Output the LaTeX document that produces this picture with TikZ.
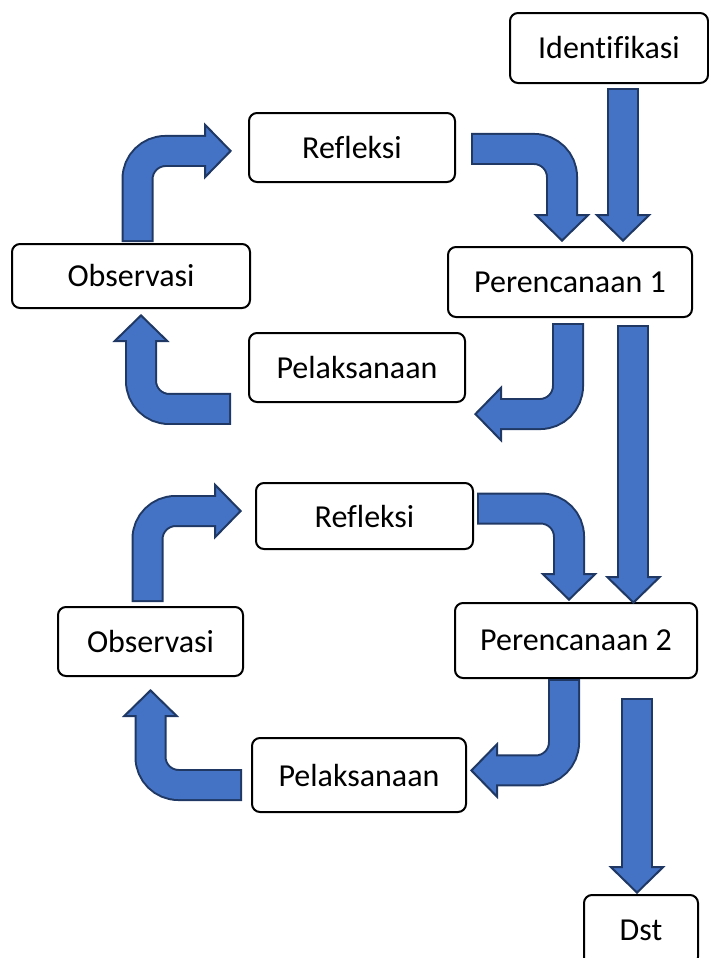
\documentclass[tikz,border=0pt]{standalone}
\usepackage{fontspec}
\setmainfont[Ligatures=NoCommon]{Carlito}
\usetikzlibrary{arrows.meta}
\definecolor{blkfill}{HTML}{4472C4}
\definecolor{blkline}{HTML}{1F3864}
\tikzset{
  box/.style={draw=black, fill=white, line width=1.5pt, rounded corners=6pt, inner sep=0pt, font=\fontsize{24}{28}\selectfont},
  blkout/.style={draw=blkline, line width=24pt, rounded corners=21pt, -{Triangle[length=21pt 0 0, width=42.75pt 0 0, line width=1.5pt 0 0, fill=blkfill]}},
  blkin/.style={draw=blkfill, line width=21pt, rounded corners=21pt, shorten <=1.5pt, shorten >=17pt},
}
\newcommand{\blkarrow}[1]{\draw[blkout] #1; \draw[blkin] #1;}

\begin{document}
\begin{tikzpicture}[x=0.75pt,y=0.75pt,yscale=-1,xscale=1]
\useasboundingbox (0,0) rectangle (709,958);

% Text Node
\node[box, minimum width=148.5pt, minimum height=52.5pt] (ident) at (609,48) {Identifikasi};
% Text Node
\node[box, minimum width=154.5pt, minimum height=51.75pt] (ref1) at (352,147.5) {Refleksi};
% Text Node
\node[box, minimum width=178.5pt, minimum height=48pt] (obs1) at (131,276) {Observasi};
% Text Node
\node[box, minimum width=183pt, minimum height=52.5pt] (perc1) at (570,282) {Perencanaan 1};
% Text Node
\node[box, minimum width=162pt, minimum height=51.75pt] (pel1) at (357,367.5) {Pelaksanaan};
% Text Node
\node[box, minimum width=162.75pt, minimum height=49.5pt] (ref2) at (364.5,516) {Refleksi};
% Text Node
\node[box, minimum width=138.75pt, minimum height=51.75pt] (obs2) at (150.5,641.5) {Observasi};
% Text Node
\node[box, minimum width=181.5pt, minimum height=56.25pt] (perc2) at (576,640.5) {Perencanaan 2};
% Text Node
\node[box, minimum width=160.5pt, minimum height=55.5pt] (pel2) at (359,775) {Pelaksanaan};
% Text Node
\node[box, minimum width=85.5pt, minimum height=52.5pt] (dst) at (641,930) {Dst};

% cycle 1
\blkarrow{([xshift=10.5pt,yshift=3pt]ident.south) -- ([xshift=39.75pt,yshift=-3pt]perc1.north)}
\blkarrow{([xshift=11.25pt,yshift=1.1pt]ref1.east) -| ([xshift=-6pt,yshift=-3pt]perc1.north)}
\blkarrow{([xshift=4.9pt,yshift=-0.75pt]obs1.north) |- ([xshift=-12pt,yshift=2.6pt]ref1.west)}
\blkarrow{([xshift=-12.75pt,yshift=31.1pt]pel1.west) -| ([xshift=7.5pt,yshift=3.75pt]obs1.south)}
\blkarrow{([xshift=-1.5pt,yshift=3.75pt]perc1.south) |- ([xshift=6pt,yshift=34.9pt]pel1.east)}
\blkarrow{([xshift=47.6pt,yshift=5.25pt]perc1.south) -- ([xshift=43.1pt,yshift=1.5pt]perc2.north)}

% cycle 2
\blkarrow{([xshift=2.25pt,yshift=-5.6pt]ref2.east) -| ([xshift=-5.25pt,yshift=-0.75pt]perc2.north)}
\blkarrow{([xshift=-2.25pt,yshift=-3pt]obs2.north) |- ([xshift=-9.75pt,yshift=-3.75pt]ref2.west)}
\blkarrow{([xshift=-6.75pt,yshift=7.5pt]pel2.west) -| ([yshift=9pt]obs2.south)}
\blkarrow{([xshift=-9pt]perc2.south) |- ([xshift=2.25pt,yshift=-3.4pt]pel2.east)}
\blkarrow{([xshift=45.75pt,yshift=14.25pt]perc2.south) -- ([xshift=-3pt]dst.north)}

\end{tikzpicture}
\end{document}
